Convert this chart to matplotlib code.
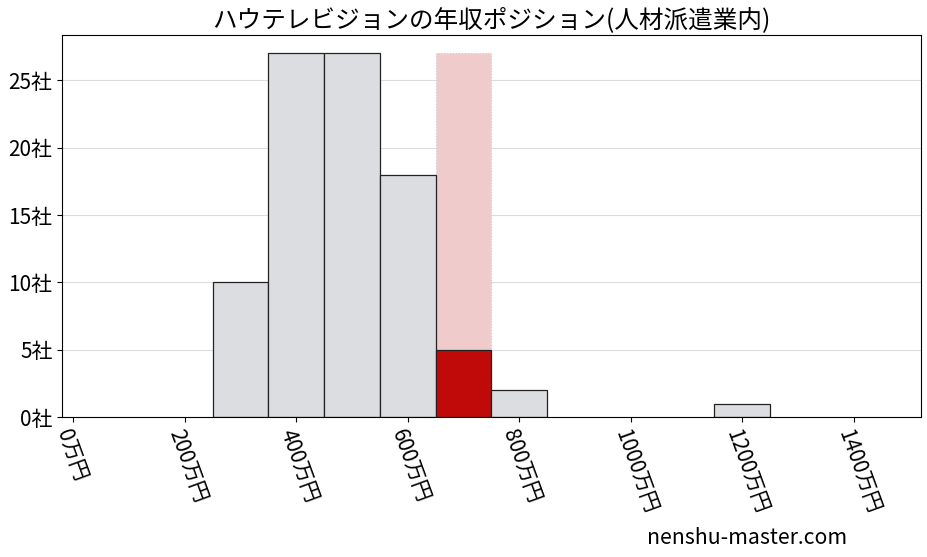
import matplotlib
matplotlib.use('Agg')
import matplotlib.pyplot as plt

plt.rcParams['font.family'] = ['Noto Sans CJK JP', 'DejaVu Sans']

# Data (bin left edges in 万円, company counts)
bin_lefts = [250, 350, 450, 550, 650, 750, 1150]
counts = [10, 27, 27, 18, 5, 2, 1]
highlight_left = 650
highlight_count = 5
bin_width = 100
x_ticks = [0, 200, 400, 600, 800, 1000, 1200, 1400]
y_ticks = [0, 5, 10, 15, 20, 25]
title = 'ハウテレビジョンの年収ポジション(人材派遣業内)'

fig = plt.figure(figsize=(9.28, 5.57), dpi=100)
ax = fig.add_axes([0.067, 0.251, 0.925, 0.686])

ax.set_axisbelow(True)
ax.grid(axis='y', color='#dddddd', linewidth=0.8)

# highlight column behind
ax.bar(highlight_left, max(counts), width=bin_width, align='edge',
       color='#f0cbcc', edgecolor='#cccccc', linestyle=':', linewidth=0.8)

colors = ['#c00a0a' if l == highlight_left else '#dcdde0' for l in bin_lefts]
ax.bar(bin_lefts, counts, width=bin_width, align='edge',
       color=colors, edgecolor='#222222', linewidth=0.9)

ax.set_xlim(-20, 1520)
ax.set_ylim(0, 28.35)
ax.set_xticks(x_ticks)
ax.set_xticklabels([f'{t}万円' for t in x_ticks], rotation=-70,
                   ha='left', rotation_mode='anchor', fontsize=15)
ax.set_yticks(y_ticks)
ax.set_yticklabels([f'{t}社' for t in y_ticks], fontsize=15)
ax.set_title(title, fontsize=17.7)

fig.text(0.913, 0.015, 'nenshu-master.com', ha='right', va='bottom', fontsize=15.3)

fig.savefig('out.png', dpi=100)
